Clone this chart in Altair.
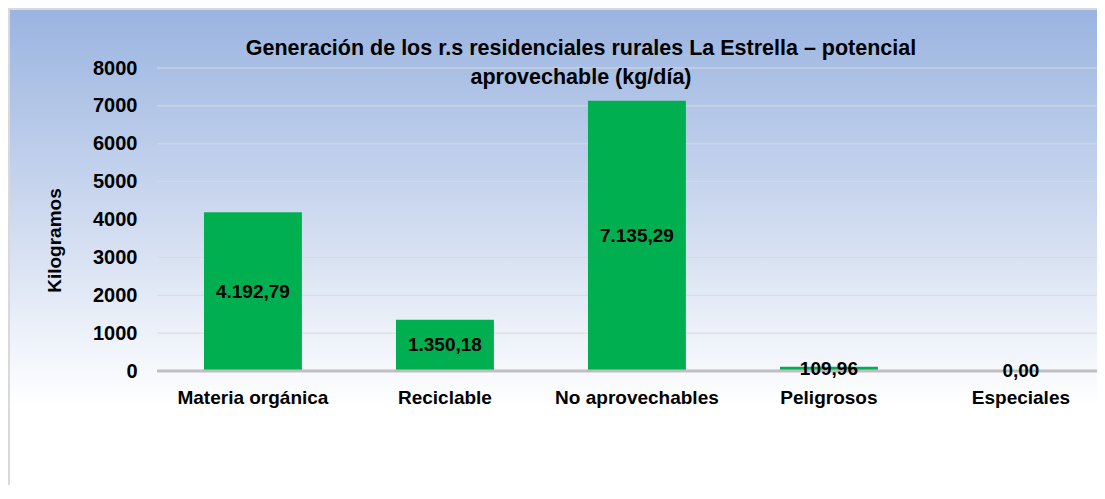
import altair as alt
import pandas as pd

categories = ["Materia orgánica", "Reciclable", "No aprovechables", "Peligrosos", "Especiales"]
values = [4192.79, 1350.18, 7135.29, 109.96, 0.00]
labels = ["4.192,79", "1.350,18", "7.135,29", "109,96", "0,00"]
y_ticks = [0, 1000, 2000, 3000, 4000, 5000, 6000, 7000, 8000]
title_lines = ["Generación de los r.s residenciales rurales La Estrella – potencial", "aprovechable (kg/día)"]

FONT = "Liberation Sans"

df = pd.DataFrame({"cat": categories, "val": values, "lab": labels})
grid_df = pd.DataFrame({"t": y_ticks[1:]})

W, H = 940, 303

xscale = alt.Scale(paddingInner=0.49, paddingOuter=0.193, align=0.634)
yscale = alt.Scale(domain=[0, 8000])

xaxis = alt.Axis(title=None, labelAngle=0, labelFont=FONT, labelFontSize=19,
                 labelFontWeight="bold", labelColor="#000000", labelPadding=17,
                 ticks=False, domain=False, grid=False, zindex=1)
yaxis = alt.Axis(title="Kilogramos", values=y_ticks, format="d", labelOverlap=False,
                 labelFont=FONT, labelFontSize=20,
                 labelFontWeight="bold", labelColor="#000000", labelPadding=20,
                 ticks=False, domain=False, grid=False, zindex=1,
                 titleFont=FONT, titleFontSize=19, titleFontWeight="bold",
                 titleColor="#000000", titleX=-103, titleY=172,
                 titleBaseline="middle", titleAngle=-90)

bg = alt.Chart(pd.DataFrame({"a": [0]})).mark_rect(
    color=alt.Gradient(
        gradient="linear",
        stops=[
            alt.GradientStop(color="#9ab4e0", offset=0),
            alt.GradientStop(color="#c9d6ee", offset=0.36),
            alt.GradientStop(color="#ffffff", offset=0.76),
            alt.GradientStop(color="#ffffff", offset=1),
        ],
        x1=0, x2=0, y1=0, y2=1,
    ),
    stroke="#d9d9d9",
    strokeWidth=2,
).encode(
    x=alt.value(-148), x2=alt.value(W + 20),
    y=alt.value(-59), y2=alt.value(H + 160),
)

grid = alt.Chart(grid_df).mark_rule(color="#d9d9d9", strokeWidth=1).encode(
    y=alt.Y("t:Q", scale=yscale, axis=yaxis), x=alt.value(0), x2=alt.value(W)
)

base = alt.Chart(df)

bars = base.mark_bar(color="#00b050").encode(
    x=alt.X("cat:N", sort=categories, scale=xscale, axis=xaxis),
    y=alt.Y("val:Q", scale=yscale, axis=yaxis),
)

zero = alt.Chart(pd.DataFrame({"z": [0]})).mark_rule(color="#bfbfbf", strokeWidth=3).encode(
    y=alt.Y("z:Q", scale=yscale, axis=yaxis), x=alt.value(0), x2=alt.value(W)
)

text = base.transform_calculate(mid="datum.val / 2").mark_text(
    font=FONT, fontSize=19, fontWeight="bold", color="#000000", baseline="middle"
).encode(
    x=alt.X("cat:N", sort=categories, scale=xscale, axis=xaxis),
    y=alt.Y("mid:Q", scale=yscale, axis=yaxis),
    text="lab:N",
)

title = alt.Chart(pd.DataFrame({"a": [0]})).mark_text(
    text=title_lines, font=FONT, fontSize=21.5, fontWeight="bold", color="#000000",
    baseline="middle", align="center", lineHeight=29,
).encode(x=alt.value(424), y=alt.value(-19))

chart = alt.layer(bg, grid, bars, zero, text, title).properties(
    width=W, height=H,
    autosize=alt.AutoSizeParams(type="none"),
    padding={"left": 149, "top": 60, "right": 0, "bottom": 114},
).configure_view(stroke=None).configure(background="#ffffff")

chart.save("out.html", embed_options={"renderer": "svg", "actions": False})
